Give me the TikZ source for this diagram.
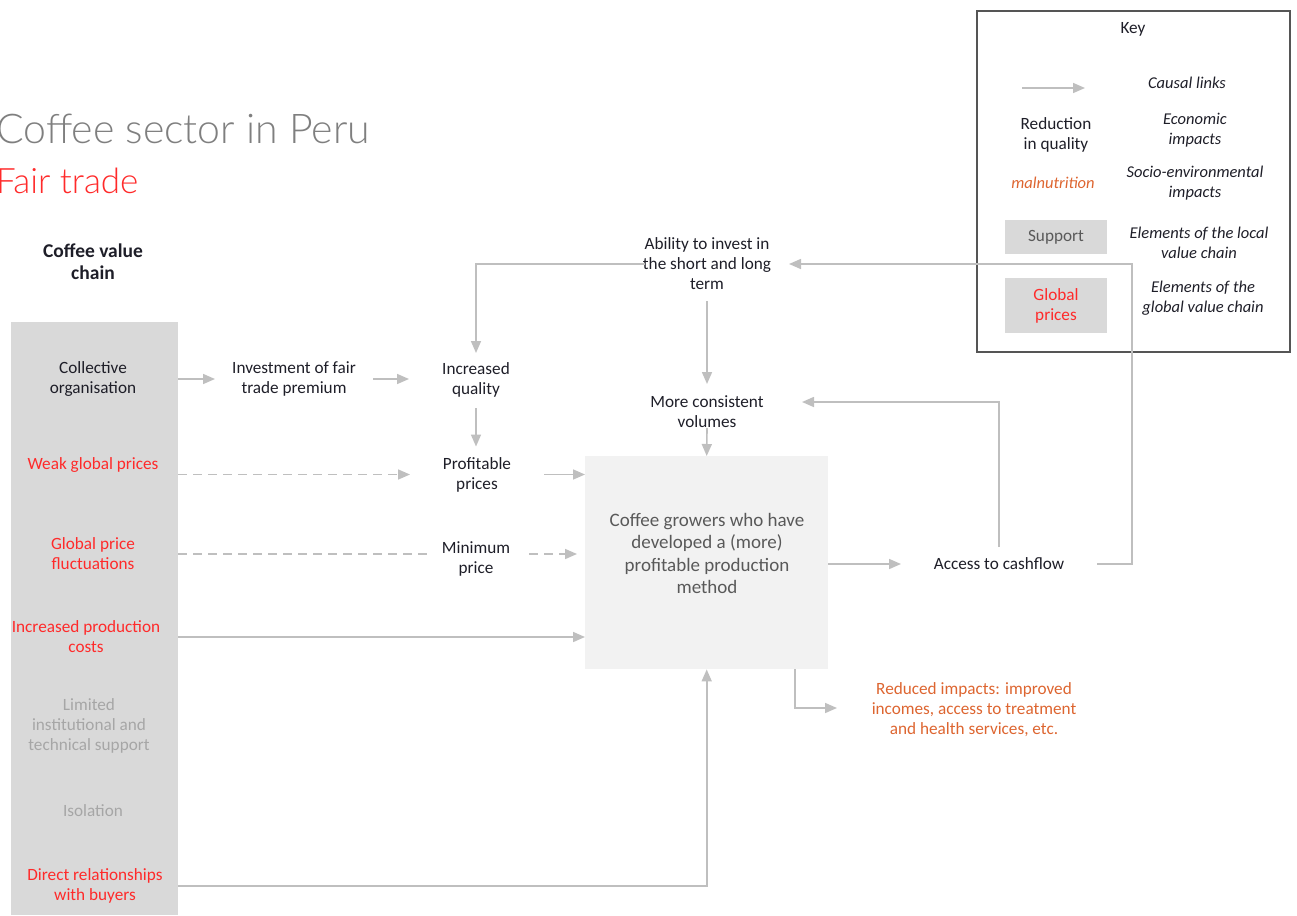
\documentclass[tikz,border=0pt]{standalone}
\usepackage{fontspec}
\setmainfont{Carlito}
\newfontfamily\titlefont{Lato Light}
\usetikzlibrary{arrows.meta,calc}
\definecolor{dark}{HTML}{1E1E28}
\definecolor{fred}{HTML}{FF2A2A}
\definecolor{forange}{HTML}{DD6530}
\definecolor{colgray}{HTML}{D9D9D9}
\definecolor{lgtext}{HTML}{A6A6A6}
\definecolor{boxfill}{HTML}{F2F2F2}
\definecolor{boxtext}{HTML}{595959}
\definecolor{arrowgray}{HTML}{BFBFBF}
\definecolor{titlegray}{HTML}{7F7F7F}
\definecolor{keyframe}{HTML}{555555}
\newcommand\bodyf{\fontsize{17.2}{20}\selectfont}
\newcommand\keyf{\fontsize{16.5}{20}\selectfont\itshape}
\newcommand\boxf{\fontsize{19}{22.3}\selectfont}
\begin{document}
\begin{tikzpicture}[x=1pt,y=-1pt,
  txt/.style={align=center,font=\bodyf,text=dark,inner sep=0pt},
  rtxt/.style={txt,text=fred},
  gtxt/.style={txt,text=lgtext},
  ktxt/.style={align=center,font=\keyf,text=dark,inner sep=0pt},
  arr/.style={draw=arrowgray,line width=1.6pt,-{Triangle[length=12pt,width=10pt]}},
  plain/.style={draw=arrowgray,line width=1.6pt},
  dsh/.style={arr,dash pattern=on 9pt off 6pt},
  dshplain/.style={plain,dash pattern=on 9pt off 6pt}]
\useasboundingbox (0,0) rectangle (1297,915);

% title
\node[anchor=base west,inner sep=0pt,font=\titlefont\fontsize{41}{41}\selectfont,text=titlegray] (title) at (-4,143) {Coffee sector in Peru};
\node[anchor=base west,inner sep=0pt,font=\titlefont\fontsize{35}{35}\selectfont,text=fred] (sub) at (-4,193) {Fair trade};

% key
\draw[keyframe,line width=1.8pt] (977,11) rectangle (1290,352);
\node[txt] (keyt) at (1133,29) {Key};
\coordinate (ka) at (1022,88);
\coordinate (kb) at (1085,88);
\draw[arr] (ka) -- (kb);
\node[ktxt] (k1) at (1187,83) {Causal links};
\node[txt] (k2a) at (1056,134.5) {Reduction\\in quality};
\node[ktxt] (k2b) at (1195,130) {Economic\\impacts};
\node[ktxt,text=forange] (k3a) at (1053,183) {malnutrition};
\node[ktxt] (k3b) at (1195,183) {Socio-environmental\\impacts};
\node[fill=colgray,minimum width=102pt,minimum height=34pt,inner sep=0pt,text=boxtext,font=\bodyf] (k4a) at (1056,237) {Support};
\node[ktxt] (k4b) at (1199,243) {Elements of the local\\value chain};
\node[fill=colgray,minimum width=102pt,minimum height=55pt,inner sep=0pt,text=fred,align=center,font=\bodyf] (k5a) at (1056,305.5) {Global\\prices};
\node[ktxt] (k5b) at (1203,298) {Elements of the\\global value chain};

% left column
\node[txt,font=\fontsize{19.5}{22}\selectfont\bfseries] (hdr) at (93,262) {Coffee value\\chain};
\node[fill=colgray,minimum width=167pt,minimum height=593pt,inner sep=0pt,anchor=north west] (col) at (11,322) {};
\node[txt] (co) at (93,379) {Collective\\organisation};
\node[rtxt] (wgp) at (93,465) {Weak global prices};
\node[rtxt] (gpf) at (93,553.5) {Global price\\fluctuations};
\node[rtxt] (ipc) at (86,637) {Increased production\\costs};
\node[gtxt] (lit) at (89,726) {Limited\\institutional and\\technical support};
\node[gtxt] (iso) at (93,811) {Isolation};
\node[rtxt] (drb) at (95,885.5) {Direct relationships\\with buyers};

% middle nodes
\node[txt] (inv) at (294,379) {Investment of fair\\trade premium};
\node[txt] (iq) at (476,380) {Increased\\quality};
\node[txt] (pp) at (477,474.5) {Profitable\\prices};
\node[txt] (mp) at (476,559) {Minimum\\price};
\node[txt] (abi) at (707,264) {Ability to invest in\\the short and long\\term};
\node[txt] (mcv) at (707,412) {More consistent\\volumes};
\node[fill=boxfill,minimum width=243pt,minimum height=213pt,inner sep=0pt,anchor=north west] (box) at (585,456) {};
\node[txt,font=\boxf,text=boxtext] (boxt) at (707,553.5) {Coffee growers who have\\developed a (more)\\profitable production\\method};
\node[txt] (acf) at (999,564) {Access to cashflow};
\node[txt,text=forange] (red) at (974,710) {Reduced impacts: improved\\incomes, access to treatment\\and health services, etc.};

% connectors
\draw[arr] (col.east |- co) -- ($(inv)+(-79,0)$);
\draw[arr] ($(inv)+(79,0)$) -- ($(iq)+(-67,-1)$);
\draw[arr] ($(iq)+(0,28)$) -- ($(pp)+(-1,-28)$);
\draw[dsh] (col.east |- pp) -- ($(pp)+(-67,0)$);
\draw[dshplain] ($(col.east |- mp)+(0,-5)$) -- ($(mp)+(-49,-5)$);
\draw[dsh] ($(mp)+(53,-5)$) -- ($(mp)+(101,-5)$);
\draw[arr] ($(pp)+(67,0)$) -- (box.west |- pp);
\draw[arr] (col.east |- ipc) -- (box.west |- ipc);
\draw[arr] ($(col.east |- drb)+(0,0.5)$) -| (box.south);
\draw[arr] ($(abi)+(-62,0)$) -| ($(iq)+(0,-27)$);
\draw[arr] ($(abi)+(0,37)$) -- ($(mcv)+(0,-28)$);
\draw[arr] ($(mcv)+(0,16)$) -- (box.north);
\draw[arr] (box.east |- acf) -- ($(acf)+(-98,0)$);
\draw[arr] ($(acf)+(0,-17)$) |- ($(mcv)+(95,-10)$);
\draw[arr] ($(acf)+(98,0)$) -- ($(acf)+(133,0)$) |- ($(abi)+(82,0)$);
\draw[arr] ($(box.south)+(88,0)$) |- ($(red)+(-137,-2)$);
\end{tikzpicture}
\end{document}
